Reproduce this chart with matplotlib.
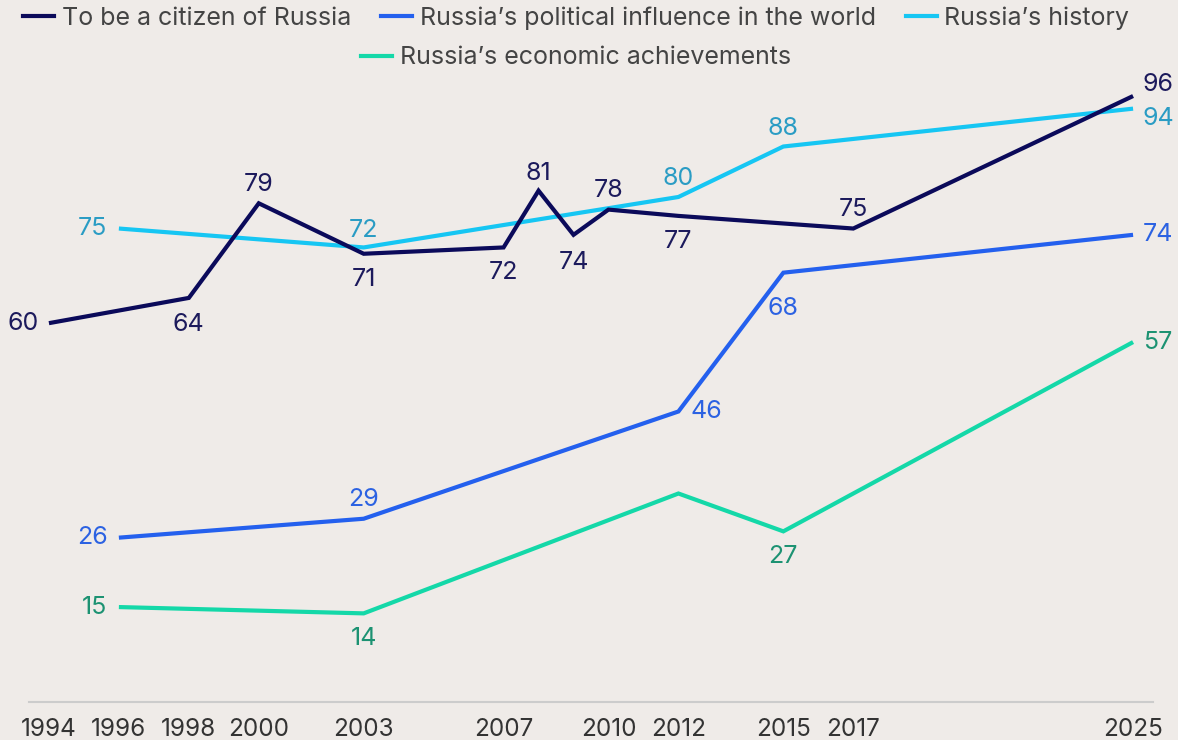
import matplotlib
matplotlib.use("Agg")
import matplotlib.pyplot as plt
from matplotlib.lines import Line2D

plt.rcParams["font.family"] = ["Inter", "DejaVu Sans"]

# data
citizen_years = [1994, 1998, 2000, 2003, 2007, 2008, 2009, 2010, 2012, 2017, 2025]
citizen_vals = [60, 64, 79, 71, 72, 81, 74, 78, 77, 75, 96]

history_years = [1996, 2003, 2012, 2015, 2025]
history_vals = [75, 72, 80, 88, 94]

political_years = [1996, 2003, 2012, 2015, 2025]
political_vals = [26, 29, 46, 68, 74]

economic_years = [1996, 2003, 2012, 2015, 2025]
economic_vals = [15, 14, 33, 27, 57]

tick_years = [1994, 1996, 1998, 2000, 2003, 2007, 2010, 2012, 2015, 2017, 2025]

series_names = [
    "To be a citizen of Russia",
    "Russia\u2019s political influence in the world",
    "Russia\u2019s history",
    "Russia\u2019s economic achievements",
]

# label offsets in pixels (dx, dy); None = no label
citizen_off = [(-26, 0), (0, -27), (0, 19), (0, -26), (0, -25), (0, 17),
               (0, -28), (0, 19), (0, -26), (0, 19), (25, 12)]
history_off = [(-26, 0), (0, 17), (0, 18), (0, 18), (25, -10)]
political_off = [(-26, 0), (0, 19), (28, 0), (0, -36), (25, 0)]
economic_off = [(-24, 0), (0, -25), None, (0, -25), (25, 0)]

BG = "#efebe8"
C_CIT, C_POL, C_HIS, C_ECO = "#0b0a5a", "#2460ee", "#16c6f3", "#14d8a8"
T_CIT, T_POL, T_HIS, T_ECO = "#1c1a5c", "#2c62e2", "#2a9cc4", "#1c9272"

fig = plt.figure(figsize=(11.78, 7.40), dpi=100, facecolor=BG)
# axis baseline at value 0 (y=702px), value 100 at y=71px
ax = fig.add_axes([29 / 1178, 38.3 / 740, 1124 / 1178, 630.9 / 740])
ax.set_facecolor(BG)
ax.set_xlim(1993.43, 2025.57)
ax.set_ylim(0, 100)


def draw(years, vals, offs, line_c, text_c):
    ax.plot(years, vals, color=line_c, lw=3, solid_joinstyle="miter",
            solid_capstyle="butt", clip_on=False, zorder=3)
    for x, v, off in zip(years, vals, offs):
        if off is None:
            continue
        ax.annotate(str(v), (x, v), xytext=(off[0] * 0.72, off[1] * 0.72),
                    textcoords="offset points", ha="center", va="center",
                    fontsize=18, color=text_c)


draw(history_years, history_vals, history_off, C_HIS, T_HIS)
draw(economic_years, economic_vals, economic_off, C_ECO, T_ECO)
draw(political_years, political_vals, political_off, C_POL, T_POL)
draw(citizen_years, citizen_vals, citizen_off, C_CIT, T_CIT)

for s in ["top", "right", "left"]:
    ax.spines[s].set_visible(False)
ax.spines["bottom"].set_color("#cccccc")
ax.spines["bottom"].set_linewidth(1.5)
ax.set_yticks([])
ax.set_xticks(tick_years)
ax.set_xticklabels([str(y) for y in tick_years])
ax.tick_params(axis="x", length=0, pad=12, labelsize=17.5, labelcolor="#333333")

handles = [Line2D([], [], color=c, lw=3) for c in (C_CIT, C_POL, C_HIS, C_ECO)]
leg_kw = dict(frameon=False, handlelength=1.25, handletextpad=0.3,
              columnspacing=1.2, labelcolor="#444444", prop={"size": 18})
leg1 = fig.legend(handles[:3], series_names[:3], loc="center", ncol=3,
                  bbox_to_anchor=(576 / 1178, 1 - 18 / 740), **leg_kw)
leg2 = fig.legend(handles[3:], series_names[3:], loc="center", ncol=1,
                  bbox_to_anchor=(576 / 1178, 1 - 58 / 740), **leg_kw)

fig.savefig("out.png", dpi=100, facecolor=BG)
